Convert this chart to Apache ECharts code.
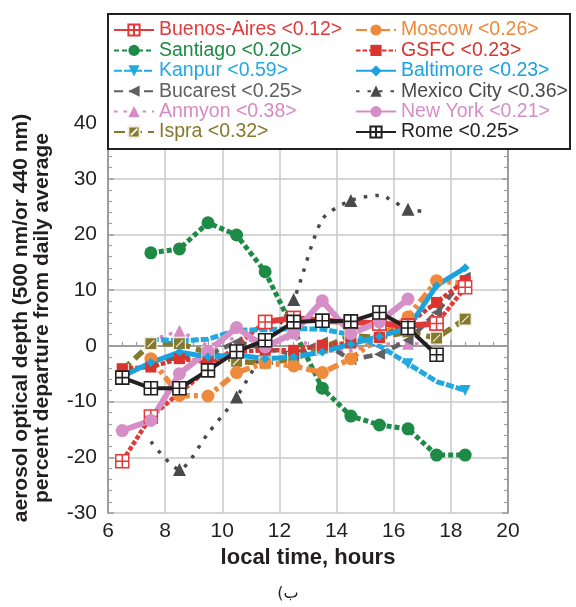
<!DOCTYPE html>
<html>
<head>
<meta charset="utf-8">
<script src="https://cdn.jsdelivr.net/npm/echarts@6/dist/echarts.min.js"></script>
<style>
  html, body { margin: 0; padding: 0; background: #fff; }
  #chart { width: 576px; height: 607px; }
</style>
</head>
<body>
<div id="chart"></div>
<script>
// Diurnal departure of aerosol optical depth from the daily mean, by site.
// Hours are local time; values are percent departure.

const siteNames = ['Buenos-Aires', 'Moscow', 'Santiago', 'GSFC', 'Kanpur', 'Baltimore',
                   'Bucarest', 'Mexico City', 'Anmyon', 'New York', 'Ispra', 'Rome'];
const meanAOD   = ['0.12', '0.26', '0.20', '0.23', '0.59', '0.23',
                   '0.25', '0.36', '0.38', '0.21', '0.32', '0.25'];

const buenosAiresHours  = [6.5, 7.5, 11.5, 12.5, 13.5, 14.5, 15.5, 16.5, 17.5, 18.5];
const buenosAiresValues = [-20.7, -12.7, 4.3, 5.0, 4.5, 4.3, 4.0, 3.6, 4.0, 10.5];

const moscowHours  = [7.5, 8.5, 9.5, 10.5, 11.5, 12.5, 13.5, 14.5, 15.5, 16.5, 17.5, 18.5];
const moscowValues = [-2.3, -8.9, -9.0, -4.8, -3.0, -3.6, -4.8, -2.3, 1.6, 5.2, 11.7, 11.2];

const santiagoHours  = [7.5, 8.5, 9.5, 10.5, 11.5, 13.5, 14.5, 15.5, 16.5, 17.5, 18.5];
const santiagoValues = [16.7, 17.4, 22.1, 19.9, 13.3, -7.6, -12.6, -14.2, -14.9, -19.6, -19.6];

const gsfcHours  = [6.5, 7.5, 8.5, 9.5, 10.5, 11.5, 12.5, 13.5, 14.5, 15.5, 16.5, 17.5, 18.5];
const gsfcValues = [-4.1, -3.8, -2.3, -2.9, -1.0, -0.8, -0.8, 0.1, 0.5, 1.5, 4.0, 7.8, 11.7];

const kanpurHours  = [7.5, 8.5, 9.5, 10.5, 11.5, 12.5, 13.5, 14.5, 15.5, 16.5, 17.5, 18.5];
const kanpurValues = [1.2, 0.9, 1.2, 2.8, 2.9, 3.1, 3.0, 2.0, 0.0, -3.2, -6.4, -8.0];

const baltimoreHours  = [6.5, 7.5, 8.5, 9.5, 10.5, 11.5, 12.5, 13.5, 14.5, 15.5, 16.5, 17.5, 18.5];
const baltimoreValues = [-5.5, -3.0, -1.1, -2.0, -1.6, -2.3, -2.0, -1.1, 0.3, 1.7, 3.2, 10.8, 14.0];

const bucarestHours  = [7.5, 8.5, 9.5, 10.5, 11.5, 12.5, 13.5, 14.5, 15.5, 16.5, 17.5, 18.5];
const bucarestValues = [-2.6, -2.2, -1.6, 0.7, -0.5, -1.5, 0.7, -2.5, -1.5, 1.0, 6.0, 12.3];

const mexicoCityHours  = [7.5, 8.5, 9.5, 10.5, 11.5, 12.5, 13.5, 14.5, 15.5, 16.5, 17.2];
const mexicoCityValues = [-17.2, -22.2, -15.7, -9.2, -0.5, 8.3, 22.7, 26.1, 27.0, 24.5, 24.1];

const anmyonHours  = [7.5, 8.5, 9.5, 10.5, 11.5, 12.5, 13.5, 14.5, 15.5, 16.5, 17.5];
const anmyonValues = [1.0, 2.7, 0.0, 1.5, 0.5, 1.5, -1.0, -0.8, 0.3, 0.4, 0.3];

const newYorkHours  = [6.5, 7.5, 8.5, 9.5, 10.5, 11.5, 12.5, 13.5, 14.5, 15.5, 16.5];
const newYorkValues = [-15.2, -13.4, -5.0, -1.0, 3.3, -0.2, 2.3, 8.1, 2.2, 4.3, 8.4];

const ispraHours  = [6.5, 7.5, 8.5, 9.5, 10.5, 11.5, 12.5, 13.5, 14.5, 15.5, 16.5, 17.5, 18.5];
const ispraValues = [-4.4, 0.4, 0.4, -1.2, -2.8, -3.1, -2.3, -0.4, 1.8, 1.5, 2.5, 1.4, 4.8];

const romeHours  = [6.5, 7.5, 8.5, 9.5, 10.5, 11.5, 12.5, 13.5, 14.5, 15.5, 16.5, 17.5];
const romeValues = [-5.7, -7.6, -7.6, -4.4, -1.0, 1.0, 4.3, 4.5, 4.4, 6.0, 3.2, -1.6];

const xTicks = { min: 6, max: 20, step: 2 };
const yTicks = { min: -30, max: 40, step: 10 };

// ---------------------------------------------------------------------------

const FONT = 'Liberation Sans, Arial, sans-serif';
const INK = '#231f20';
const AXIS = '#9d9d9d';

const colors = {
  'Buenos-Aires': '#e23a3b', 'Moscow': '#ef8a3c', 'Santiago': '#1d8a45', 'GSFC': '#d9352e',
  'Kanpur': '#22a9e1', 'Baltimore': '#1aa3de', 'Bucarest': '#606062', 'Mexico City': '#4a4a4c',
  'Anmyon': '#d88ac4', 'New York': '#d68fc6', 'Ispra': '#857a2c', 'Rome': INK
};

// square with a cross: white fill, coloured outline
const crossBox = 'path://M0,0H12V12H0Z M6,0V12 M0,6H12';
const slashBox = 'path://M0,0H12V12H0Z M2.5,9.5L9.5,2.5';

function points(hours, values, marked) {
  return hours.map((h, i) => {
    const item = { value: [h, values[i]] };
    if (marked && !marked.includes(h)) item.symbol = 'none';
    return item;
  });
}

function lineSeries(name, hours, values, style) {
  const c = colors[name] || style.color;
  return {
    type: 'line',
    name: name,
    data: points(hours, values, style.marked),
    symbol: style.symbol || 'none',
    symbolSize: style.size || 10,
    symbolRotate: style.rotate || 0,
    showAllSymbol: true,
    smooth: style.smooth || false,
    connectNulls: false,
    lineStyle: { color: c, width: style.width, type: style.dash || 'solid', cap: 'butt' },
    itemStyle: style.item || { color: c },
    emphasis: { disabled: true },
    z: 2
  };
}

// Buenos-Aires: solid where hourly data are continuous, dotted across gaps
const baSolid = buenosAiresValues.map((v, i) =>
  (buenosAiresHours[i] >= 11.5 && buenosAiresHours[i] <= 17.5) ? v : null);

const series = [
  lineSeries('Mexico City', mexicoCityHours, mexicoCityValues,
    { width: 3.5, dash: [3.5, 8], symbol: 'triangle', size: 13, smooth: 0.25,
      marked: [8.5, 10.5, 12.5, 14.5, 16.5] }),
  lineSeries('Santiago', santiagoHours, santiagoValues,
    { width: 5, dash: [5, 3], symbol: 'circle', size: 13 }),
  lineSeries('Anmyon', anmyonHours, anmyonValues,
    { width: 3.5, dash: [3.5, 6], symbol: 'triangle', size: 12, marked: [8.5, 16.5] }),
  lineSeries('Ispra', ispraHours, ispraValues,
    { width: 5.5, dash: [11, 6], symbol: slashBox, size: 12,
      item: { color: colors['Ispra'], borderColor: '#f1eedc', borderWidth: 1.2 } }),
  lineSeries('Bucarest', bucarestHours, bucarestValues,
    { width: 4.5, dash: [9, 6], symbol: 'triangle', size: 11, rotate: 90 }),
  lineSeries('Moscow', moscowHours, moscowValues,
    { width: 5.5, dash: [11, 4, 4, 4], symbol: 'circle', size: 13 }),
  lineSeries('GSFC', gsfcHours, gsfcValues,
    { width: 4.5, dash: [4.5, 2], symbol: 'rect', size: 11 }),
  lineSeries('Buenos-Aires (gaps)', buenosAiresHours, buenosAiresValues,
    { color: colors['Buenos-Aires'], width: 4.5, dash: [4.5, 2], symbol: crossBox, size: 13,
      item: { color: '#fff', borderColor: colors['Buenos-Aires'], borderWidth: 1.5 } }),
  lineSeries('Buenos-Aires', buenosAiresHours, baSolid,
    { width: 6, symbol: crossBox, size: 13,
      item: { color: '#fff', borderColor: colors['Buenos-Aires'], borderWidth: 1.5 } }),
  lineSeries('Kanpur', kanpurHours, kanpurValues,
    { width: 5, dash: [8, 2], symbol: 'triangle', size: 11, rotate: 180, marked: [16.5, 18.5] }),
  lineSeries('New York', newYorkHours, newYorkValues,
    { width: 6, symbol: 'circle', size: 13 }),
  lineSeries('Baltimore', baltimoreHours, baltimoreValues,
    { width: 5, symbol: 'diamond', size: 9 }),
  lineSeries('Rome', romeHours, romeValues,
    { width: 4, symbol: crossBox, size: 13,
      item: { color: '#fff', borderColor: INK, borderWidth: 1.6 } })
];

function legendColumn(left, start) {
  const names = siteNames.filter((_, i) => i % 2 === start);
  return {
    orient: 'vertical',
    left: left, top: 20,
    padding: 0,
    itemWidth: 40, itemHeight: 14, itemGap: 0.4,
    selectedMode: false,
    z: 20,
    data: names.map(n => ({ name: n, textStyle: { color: colors[n] } })),
    formatter: n => n + ' <' + meanAOD[siteNames.indexOf(n)] + '>',
    textStyle: { fontSize: 19.5, lineHeight: 20, fontFamily: FONT }
  };
}

const axisCommon = {
  axisLine: { show: true, lineStyle: { color: AXIS, width: 2 } },
  axisTick: { show: true, inside: true, length: 6, lineStyle: { color: AXIS, width: 1.5 } },
  minorTick: { show: true, length: 4, lineStyle: { color: AXIS, width: 1.2 } },
  axisLabel: { fontSize: 21, color: INK, fontFamily: FONT }
};

const chart = echarts.init(document.getElementById('chart'), null, { renderer: 'canvas' });
chart.setOption({
  animation: false,
  backgroundColor: '#fff',
  grid: { left: 108, right: 68, top: 123, bottom: 94 },
  legend: [legendColumn(113, 0), legendColumn(355, 1)],
  xAxis: Object.assign({}, axisCommon, {
    type: 'value', min: xTicks.min, max: xTicks.max, interval: xTicks.step,
    minorTick: Object.assign({}, axisCommon.minorTick, { splitNumber: 4 }),
    splitLine: { show: true, lineStyle: { color: '#c8c8c8', width: 1.5 } },
    axisLabel: Object.assign({}, axisCommon.axisLabel, { margin: 8 }),
    name: 'local time, hours', nameLocation: 'middle', nameGap: 34,
    nameTextStyle: { fontSize: 22, fontWeight: 'bold', color: INK, fontFamily: FONT }
  }),
  yAxis: [
    Object.assign({}, axisCommon, {
      type: 'value', min: yTicks.min, max: yTicks.max, interval: yTicks.step,
      position: 'left',
      minorTick: Object.assign({}, axisCommon.minorTick, { splitNumber: 5 }),
      splitLine: { show: true, lineStyle: { color: '#c8c8c8', width: 1.5 } },
      axisLabel: Object.assign({}, axisCommon.axisLabel, { margin: 11 }),
      name: 'aerosol optical depth (500 nm/or 440 nm)\npercent departure from daily average',
      nameLocation: 'middle', nameGap: 55, nameRotate: 90,
      nameTextStyle: { fontSize: 21, lineHeight: 21, fontWeight: 'bold', color: INK,
                       fontFamily: FONT, align: 'center' }
    }),
    Object.assign({}, axisCommon, {
      type: 'value', min: yTicks.min, max: yTicks.max, interval: yTicks.step,
      position: 'right',
      minorTick: Object.assign({}, axisCommon.minorTick, { splitNumber: 5 }),
      splitLine: { show: false },
      axisLabel: { show: false }
    })
  ],
  graphic: [
    {
      type: 'rect', left: 107, top: 13, z: 10,
      shape: { width: 462, height: 135 },
      style: { fill: '#fff', stroke: INK, lineWidth: 2 }
    },
    {
      type: 'text', left: 'center', top: 586, z: 10,
      style: { text: '(ب', fontSize: 16, fill: INK, fontFamily: 'DejaVu Sans' }
    }
  ],
  series: series
});
</script>
</body>
</html>
